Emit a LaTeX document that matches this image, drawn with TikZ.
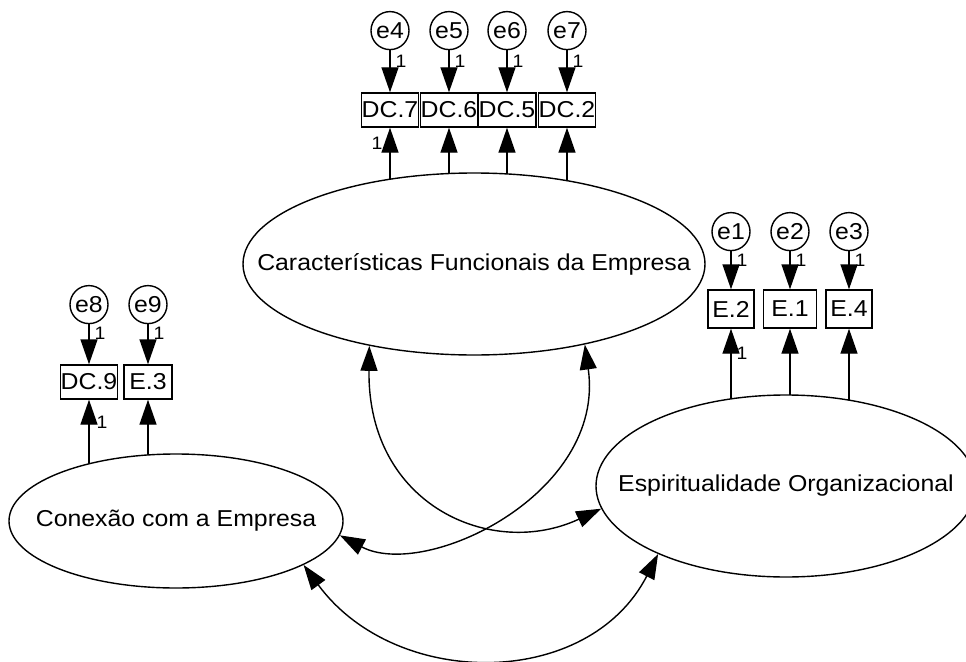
\documentclass[tikz,border=0pt]{standalone}
\usepackage{fontspec}
\setmainfont{Liberation Sans}[FakeStretch=1.08]
\usetikzlibrary{arrows.meta}
\usetikzlibrary{positioning}
\usetikzlibrary{shapes,backgrounds}
\tikzstyle{latent}=[draw,ellipse,fill=white,line width=1.4pt,inner sep=0pt]
\tikzstyle{item}=[draw,rectangle,fill=white,line width=1.4pt,inner xsep=0pt,inner ysep=0pt,minimum height=34pt]
\tikzstyle{err}=[draw,circle,fill=white,line width=1.4pt,minimum size=38pt,inner sep=0pt]
\tikzstyle{reg}=[-{Triangle[length=25pt,width=17pt]},line width=1.4pt]
\tikzstyle{cov}=[{Triangle[length=25pt,width=17pt]}-{Triangle[length=25pt,width=17pt]},line width=1.4pt]
\tikzstyle{one}=[font=\fontsize{18}{20}\selectfont,inner sep=0pt]

\begin{document}
\begin{tikzpicture}[x=1pt,y=-1pt,font=\fontsize{23}{27}\selectfont]
\path[use as bounding box,clip] (0,0) rectangle (966,661);

% latent factors
\node [latent,minimum width=462pt,minimum height=182pt,label=center:{Características Funcionais da Empresa}] (cfe) at (474,264) {};
\node [latent,minimum width=380pt,minimum height=182pt,label=center:{Espiritualidade Organizacional}] (eo) at (786,486) {};
\node [latent,minimum width=334pt,minimum height=134pt,label=center:{Conexão com a Empresa}] (ce) at (176,521) {};

% indicators
\node [item,minimum width=55pt] (dc7) at (390,110) {DC.7};
\node [item,minimum width=56pt] (dc6) at (449,110) {DC.6};
\node [item,minimum width=58pt] (dc5) at (507,110) {DC.5};
\node [item,minimum width=54pt] (dc2) at (567,110) {DC.2};
\node [item,minimum width=46pt,minimum height=38pt] (eb2) at (731,309) {E.2};
\node [item,minimum width=53pt,minimum height=38pt] (eb1) at (790,309) {E.1};
\node [item,minimum width=46pt,minimum height=38pt] (eb4) at (849,309) {E.4};
\node [item,minimum width=51pt] (dc9) at (89,382) {DC.9};
\node [item,minimum width=48pt] (eb3) at (148,382) {E.3};

% errors
\node [err,above=42pt of dc7] (e4) {e4};
\node [err,above=42pt of dc6] (e5) {e5};
\node [err,above=42pt of dc5] (e6) {e6};
\node [err,above=42pt of dc2] (e7) {e7};
\node [err,above=38pt of eb2] (e1) {e1};
\node [err,above=38pt of eb1] (e2) {e2};
\node [err,above=38pt of eb4] (e3) {e3};
\node [err,above=40pt of dc9] (e8) {e8};
\node [err,above=40pt of eb3] (e9) {e9};

\foreach \e/\b in {e4/dc7,e5/dc6,e6/dc5,e7/dc2,e1/eb2,e2/eb1,e3/eb4,e8/dc9,e9/eb3}{
  \draw[reg] (\e) -- (\b);
  \node[one] at (\b) [xshift=11pt,yshift=49pt] {1};
}

\begin{scope}[on background layer]
\foreach \b in {dc7,dc6,dc5,dc2} \draw[reg] (\b |- cfe.center) -- (\b);
\foreach \b in {eb2,eb1,eb4} \draw[reg] (\b |- eo.center) -- (\b);
\foreach \b in {dc9,eb3} \draw[reg] (\b |- ce.center) -- (\b);
\end{scope}

\node[one] at (dc7) [xshift=-13pt,yshift=-33pt] {1};
\node[one] at (eb2) [xshift=11pt,yshift=-44pt] {1};
\node[one] at (dc9) [xshift=13pt,yshift=-40pt] {1};

% covariances
\draw[cov] (cfe.218) .. controls +(-2,160) and +(-109,51) .. (eo.187);
\draw[cov] (cfe.-36) .. controls +(21,150) and +(85,45) .. (ce.-5);
\draw[cov] (ce.-19) .. controls +(92,125) and +(-70,136) .. (eo.208);

\end{tikzpicture}
\end{document}
